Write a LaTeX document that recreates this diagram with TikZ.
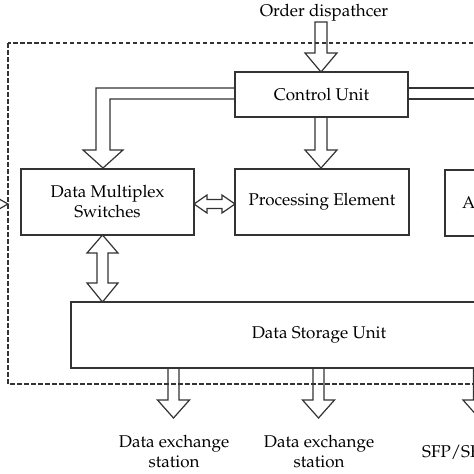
\documentclass[tikz,border=0pt]{standalone}
\usepackage[T1]{fontenc}
\usepackage{mathpazo}
\begin{document}
\begin{tikzpicture}[x=1pt,y=-1pt,
  ln/.style={draw=black!80, line width=1.2pt, line join=miter},
  box/.style={ln, rectangle, inner sep=0pt, align=center, font=\fontsize{17}{20}\selectfont},
  lbl/.style={inner sep=0pt, align=center, font=\fontsize{17}{20}\selectfont},
  frame/.style={draw=black!80, line width=1.2pt, dash pattern=on 4.5pt off 2.5pt}]
\useasboundingbox (0,0) rectangle (474,474);
\clip (0,0) rectangle (474,474);
% dashed frame
\draw[frame] (8,43) rectangle (540,384);
% boxes
\node[box, minimum width=173, minimum height=45] (cu) at (321.5,94.5) {Control Unit};
\node[box, minimum width=173, minimum height=66] (dms) at (107.5,202) {Data Multiplex\\Switches};
\node[box, minimum width=174, minimum height=66] (pe) at (322,202) {Processing Element};
\node[box, minimum height=66, text width=139, align=left, inner xsep=17] (au) at (531.5,203) {A};
\node[box, minimum width=496, minimum height=66] (dsu) at (319,335) {Data Storage Unit};
% labels
\node[lbl] (od) at (324,13) {Order dispathcer};
\node[lbl] (de1) at (174,452) {Data exchange\\station};
\node[lbl] (de2) at (319,452) {Data exchange\\station};
\node[lbl, anchor=west] (sfp) at (422,452) {SFP/SFP+};
% order dispatcher arrow
\draw[ln] (315,22)--(315,53)--(305,53)--(321,72)--(337,53)--(327,53)--(327,22)--cycle;
% control unit down arrow
\draw[ln] (315,117)--(315,150)--(305,150)--(321,168)--(337,150)--(327,150)--(327,117);
% control unit to DMS L-arrow
\draw[ln] (235,88)--(96,88)--(96,150)--(83,150)--(103,168)--(123,150)--(110,150)--(110,99)--(235,99);
% control unit right pipe
\draw[ln] (408,88)--(480,88);
\draw[ln] (408,99)--(480,99);
% DMS <-> PE
\draw[ln] (194,204)--(207,195)--(207,199.5)--(222,199.5)--(222,195)--(235,204)--(222,213)--(222,208.5)--(207,208.5)--(207,213)--cycle;
% DMS <-> storage
\draw[ln] (102.5,235)--(87,253)--(97,253)--(97,283)--(87,283)--(102.5,302)--(118,283)--(108,283)--(108,253)--(118,253)--cycle;
% storage down arrows
\foreach \c in {173.5,318.5,479}{
  \draw[ln] (\c-5.5,368)--(\c-5.5,400)--(\c-16,400)--(\c,418)--(\c+16,400)--(\c+5.5,400)--(\c+5.5,368);
}
% left input chevron
\draw[ln] (-8,195)--(8,204)--(-8,213);
\end{tikzpicture}
\end{document}
